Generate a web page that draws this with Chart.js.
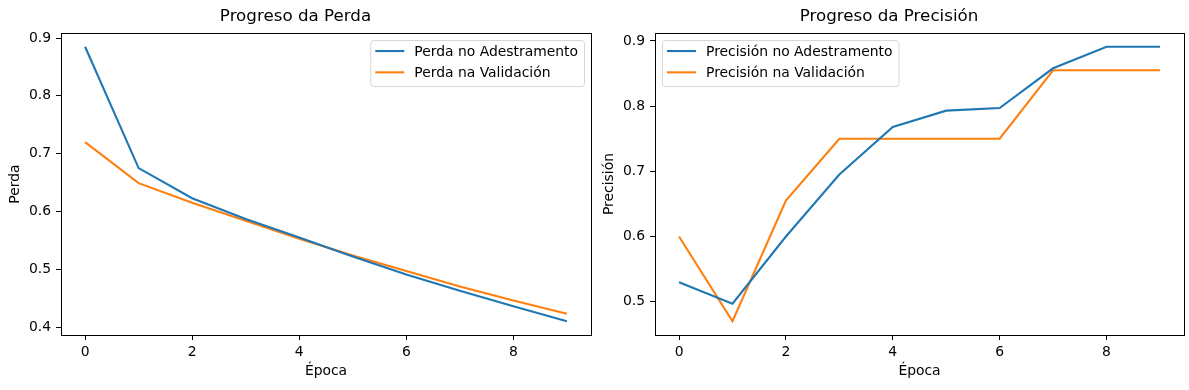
<!DOCTYPE html>
<html>
<head>
<meta charset="utf-8">
<script src="https://cdn.jsdelivr.net/npm/chart.js@4.4.1/dist/chart.umd.min.js"></script>
<style>
  body { margin: 0; background: #fff; }
  #wrap { position: relative; width: 1189px; height: 390px; }
  canvas { position: absolute; top: 0; }
</style>
</head>
<body>
<div id="wrap">
  <canvas id="perda" width="594" height="390" style="left:0px"></canvas>
  <canvas id="precision" width="595" height="390" style="left:594px"></canvas>
</div>
<script>
// datos
var epocas = [0, 1, 2, 3, 4, 5, 6, 7, 8, 9];
var perda_adestramento = [0.885, 0.675, 0.623, 0.587, 0.555, 0.522, 0.491, 0.463, 0.436, 0.410];
var perda_validacion = [0.720, 0.649, 0.615, 0.584, 0.553, 0.524, 0.497, 0.470, 0.446, 0.423];
var precision_adestramento = [0.530, 0.497, 0.600, 0.695, 0.768, 0.793, 0.797, 0.858, 0.891, 0.891];
var precision_validacion = [0.600, 0.470, 0.655, 0.750, 0.750, 0.750, 0.750, 0.855, 0.855, 0.855];
var ticks_x = [0, 2, 4, 6, 8];
var ticks_perda = [0.4, 0.5, 0.6, 0.7, 0.8, 0.9];
var ticks_precision = [0.5, 0.6, 0.7, 0.8, 0.9];

var AZUL = '#1f77b4';
var LARANXA = '#ff7f0e';
var FONTE = "'DejaVu Sans', sans-serif";
var FS = 13.9;

function puntos(valores) {
  var out = [];
  for (var i = 0; i < epocas.length; i++) {
    out.push({ x: epocas[i], y: valores[i] });
  }
  return out;
}

// marxes coma matplotlib (5%)
function limites(a, b) {
  var todos = a.concat(b);
  var mn = Math.min.apply(null, todos);
  var mx = Math.max.apply(null, todos);
  var m = (mx - mn) * 0.05;
  return [mn - m, mx + m];
}

// caixa do eixo e lenda dentro da area, ao estilo matplotlib
var moldura = {
  id: 'moldura',
  afterDraw: function (chart, args, opts) {
    var ctx = chart.ctx;
    var a = chart.chartArea;
    ctx.save();
    ctx.strokeStyle = '#000';
    ctx.lineWidth = 1;
    ctx.strokeRect(Math.round(a.left) + 0.5, Math.round(a.top) + 0.5,
      Math.round(a.right - a.left), Math.round(a.bottom - a.top));

    // lenda
    ctx.font = FS + 'px ' + FONTE;
    var ds = chart.data.datasets;
    var maxW = 0;
    for (var i = 0; i < ds.length; i++) {
      maxW = Math.max(maxW, ctx.measureText(ds[i].label).width);
    }
    var w = 44 + maxW + 6;
    var h = 46;
    var x0 = opts.loc === 'right' ? a.right - 7 - w : a.left + 7;
    var y0 = a.top + 7;
    ctx.beginPath();
    if (ctx.roundRect) ctx.roundRect(x0 + 0.5, y0 + 0.5, w, h, 3);
    else ctx.rect(x0 + 0.5, y0 + 0.5, w, h);
    ctx.fillStyle = 'rgba(255,255,255,0.8)';
    ctx.fill();
    ctx.strokeStyle = '#d6d6d6';
    ctx.stroke();
    for (var j = 0; j < ds.length; j++) {
      var yy = y0 + 11 + j * 21.3;
      ctx.beginPath();
      ctx.moveTo(x0 + 5, yy);
      ctx.lineTo(x0 + 34, yy);
      ctx.strokeStyle = ds[j].borderColor;
      ctx.lineWidth = 2.1;
      ctx.stroke();
      ctx.fillStyle = '#000';
      ctx.textBaseline = 'middle';
      ctx.textAlign = 'left';
      ctx.fillText(ds[j].label, x0 + 44, yy + 1);
    }
    ctx.restore();
  }
};

function grafico(id, titulo, etiquetaY, serieA, serieB, nomeA, nomeB, ticksY, loc, padDer) {
  var lim = limites(serieA, serieB);
  var ctx = document.getElementById(id).getContext('2d');
  return new Chart(ctx, {
    type: 'line',
    data: {
      datasets: [{
        label: nomeA,
        data: puntos(serieA),
        borderColor: AZUL,
        backgroundColor: AZUL,
        borderWidth: 2.1,
        pointRadius: 0,
        tension: 0
      }, {
        label: nomeB,
        data: puntos(serieB),
        borderColor: LARANXA,
        backgroundColor: LARANXA,
        borderWidth: 2.1,
        pointRadius: 0,
        tension: 0
      }]
    },
    options: {
      responsive: false,
      animation: false,
      devicePixelRatio: 1,
      layout: { padding: { left: 0, right: padDer, top: 0, bottom: 0 } },
      plugins: {
        legend: { display: false },
        tooltip: { enabled: false },
        title: {
          display: true,
          text: titulo,
          color: '#000',
          font: { family: FONTE, size: 16.7, weight: 'normal' },
          padding: { top: 7, bottom: 6 }
        },
        moldura: { loc: loc }
      },
      scales: {
        x: {
          type: 'linear',
          min: -0.45,
          max: 9.45,
          afterBuildTicks: function (s) {
            s.ticks = ticks_x.map(function (v) { return { value: v }; });
          },
          afterFit: function (s) { s.height = 55; },
          grid: { drawOnChartArea: false, drawTicks: true, tickLength: 5, tickColor: '#000', tickWidth: 1 },
          border: { display: false },
          ticks: { color: '#000', padding: 4, maxRotation: 0, font: { family: FONTE, size: FS } },
          title: { display: true, text: 'Época', color: '#000', font: { family: FONTE, size: FS }, padding: { top: 0, bottom: 10.5 } }
        },
        y: {
          type: 'linear',
          min: lim[0],
          max: lim[1],
          afterBuildTicks: function (s) {
            s.ticks = ticksY.map(function (v) { return { value: v }; });
          },
          afterFit: function (s) { s.width = 61; },
          grid: { drawOnChartArea: false, drawTicks: true, tickLength: 5, tickColor: '#000', tickWidth: 1 },
          border: { display: false },
          ticks: {
            color: '#000', padding: 5, font: { family: FONTE, size: FS },
            callback: function (v) { return v.toFixed(1); }
          },
          title: { display: true, text: etiquetaY, color: '#000', font: { family: FONTE, size: FS }, padding: { top: 7.5, bottom: 0 } }
        }
      }
    },
    plugins: [moldura]
  });
}

grafico('perda', 'Progreso da Perda', 'Perda', perda_adestramento, perda_validacion,
  'Perda no Adestramento', 'Perda na Validación', ticks_perda, 'right', 3);
grafico('precision', 'Progreso da Precisión', 'Precisión', precision_adestramento, precision_validacion,
  'Precisión no Adestramento', 'Precisión na Validación', ticks_precision, 'left', 5);
</script>
</body>
</html>
